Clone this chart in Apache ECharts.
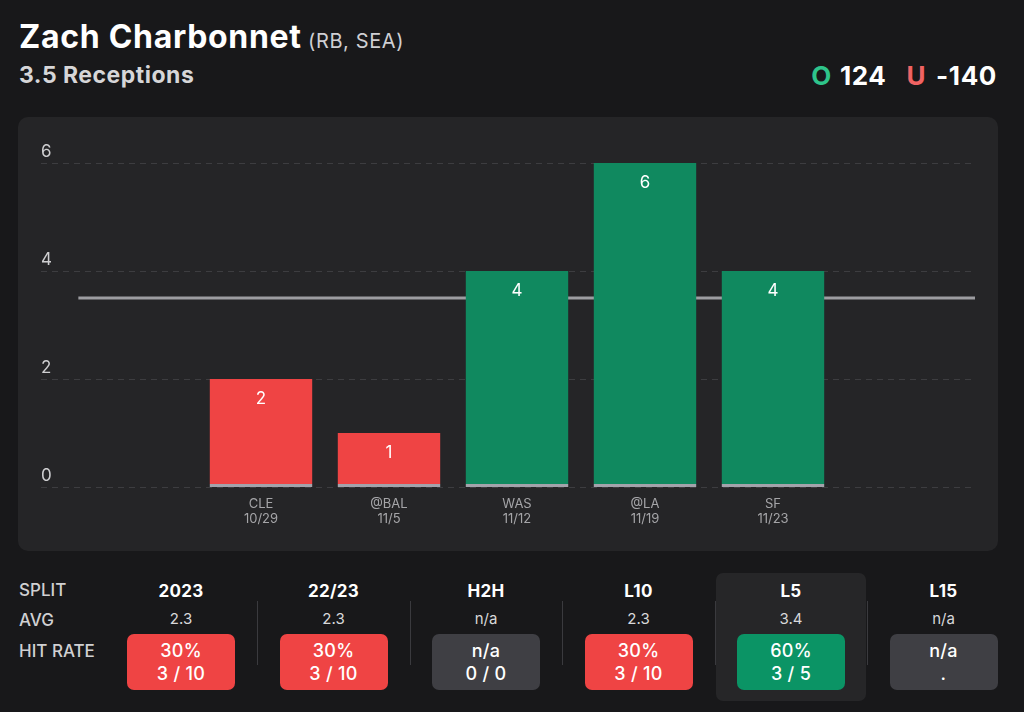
<!DOCTYPE html>
<html><head><meta charset="utf-8">
<script src="https://cdn.jsdelivr.net/npm/echarts@6/dist/echarts.min.js"></script>
<style>
html,body{margin:0;padding:0;background:#18181a;width:1024px;height:712px;overflow:hidden;font-family:Inter,"Noto Sans",sans-serif;}
#page{position:relative;width:1024px;height:712px;}
.abs{position:absolute;white-space:nowrap;}
#title{left:19px;top:17px;font-size:32px;font-weight:700;color:#fff;letter-spacing:0.7px}
#title span{font-size:20px;font-weight:400;color:#cfcfd3;letter-spacing:0.6px;margin-left:-2px}
#sub{left:19px;top:61px;font-size:23px;font-weight:700;color:#d6d6d8;letter-spacing:0.5px}
#odds{right:27px;top:60px;font-size:26px;font-weight:700;color:#fff;letter-spacing:0.6px}
#odds .o{color:#2ec48b;margin-right:8px}
#odds .u{color:#f06363;margin-left:20px;margin-right:10px}
#chart{left:18px;top:117px;width:980px;height:434px;background:#252527;border-radius:10px}
.rowlab{left:19px;font-size:17px;font-weight:500;color:#d0d0d2}
.colhead{font-size:17px;font-weight:700;color:#fff;text-align:center;width:140px;margin-left:-70px;letter-spacing:0.3px}
.colavg{font-size:15px;font-weight:400;color:#d8d8da;text-align:center;width:140px;margin-left:-70px}
.pill{width:108px;height:56px;margin-left:-54px;top:634px;border-radius:7px;box-sizing:border-box;padding-top:5px;text-align:center;color:#fff;font-size:18px;font-weight:500;line-height:23px;letter-spacing:0.3px}
.sep{width:1px;top:601px;height:64px;background:#3a3a3e}
#hl{left:716px;top:573px;width:150px;height:128px;background:#262628;border-radius:7px}
</style></head>
<body><div id="page">
<div id="title" class="abs">Zach Charbonnet <span>(RB, SEA)</span></div>
<div id="sub" class="abs">3.5 Receptions</div>
<div id="odds" class="abs"><span class="o">O</span>124<span class="u">U</span>-140</div>
<div id="chart" class="abs"></div>
<div id="hl" class="abs"></div>
<div id="table"></div>
</div>
<script>
// ---- chart data ----
const opponents = ['CLE', '@BAL', 'WAS', '@LA', 'SF'];
const dates = ['10/29', '11/5', '11/12', '11/19', '11/23'];
const receptions = [2, 1, 4, 6, 4];
const propLine = 3.5;
const yTicks = [0, 2, 4, 6];
// ---- split table data ----
const splits = ['2023', '22/23', 'H2H', 'L10', 'L5', 'L15'];
const splitAvg = ['2.3', '2.3', 'n/a', '2.3', '3.4', 'n/a'];
const hitPct = ['30%', '30%', 'n/a', '30%', '60%', 'n/a'];
const hitFrac = ['3 / 10', '3 / 10', '0 / 0', '3 / 10', '3 / 5', '.'];
const hitKind = ['under', 'under', 'none', 'under', 'over', 'none'];

const RED = '#ef4444', GREEN = '#10895f', STRIP = '#a3a3ab';

// table
const tbl = document.getElementById('table');
let html = '';
html += '<div class="abs rowlab" style="top:580px">SPLIT</div>';
html += '<div class="abs rowlab" style="top:610px">AVG</div>';
html += '<div class="abs rowlab" style="top:641px">HIT RATE</div>';
const pillColor = {under: '#ef4444', over: '#0b9465', none: '#3f3f44'};
splits.forEach((s, i) => {
  const cx = 181 + 152.5 * i;
  html += `<div class="abs colhead" style="left:${cx}px;top:581px">${s}</div>`;
  html += `<div class="abs colavg" style="left:${cx}px;top:609px">${splitAvg[i]}</div>`;
  html += `<div class="abs pill" style="left:${cx}px;background:${pillColor[hitKind[i]]}"><div>${hitPct[i]}</div><div>${hitFrac[i]}</div></div>`;
  if (i < splits.length - 1) html += `<div class="abs sep" style="left:${Math.round(cx + 76)}px"></div>`;
});
tbl.innerHTML = html;

// chart
const chart = echarts.init(document.getElementById('chart'), null, {renderer: 'canvas'});
const axisY = 370; // pixel y of zero line inside chart div (for bottom strip gradient)
function barFill(v) {
  const c = v > propLine ? GREEN : RED;
  return {type: 'linear', x: 0, y: axisY - 3.5, x2: 0, y2: axisY - 2.5, global: true,
    colorStops: [{offset: 0, color: c}, {offset: 1, color: STRIP}]};
}
chart.setOption({
  backgroundColor: 'transparent',
  animation: false,
  textStyle: {fontFamily: 'Inter'},
  grid: [
    {left: 23, right: 23, top: 46, bottom: 64},
    {left: 179, right: 161, top: 46, bottom: 64}
  ],
  xAxis: [
    {gridIndex: 0, type: 'value', min: 0, max: 1, show: false},
    {gridIndex: 1, type: 'category', data: opponents.map((o, i) => o + '\n' + dates[i]),
      axisLine: {show: false}, axisTick: {show: false},
      axisLabel: {color: '#a5a5a8', fontSize: 13, lineHeight: 15, margin: 10, fontFamily: 'Inter'}}
  ],
  yAxis: [
    {gridIndex: 0, type: 'value', min: yTicks[0], max: yTicks[yTicks.length - 1], interval: yTicks[1] - yTicks[0],
      axisLine: {show: false}, axisTick: {show: false},
      axisLabel: {inside: true, margin: 0, align: 'left', verticalAlign: 'bottom', padding: [0, 0, 3, 0],
        color: '#cfcfd1', fontSize: 17, fontFamily: 'Inter'},
      splitLine: {show: true, lineStyle: {type: [6, 5], color: '#3d3d40', width: 1}}},
    {gridIndex: 1, type: 'value', min: yTicks[0], max: yTicks[yTicks.length - 1], interval: yTicks[1] - yTicks[0], show: false}
  ],
  series: [
    {type: 'line', xAxisIndex: 0, yAxisIndex: 0, data: [[0.04, propLine], [1, propLine]],
      symbol: 'none', silent: true, z: 1, lineStyle: {color: '#9d9da1', width: 3}},
    {type: 'bar', xAxisIndex: 1, yAxisIndex: 1, barWidth: '80%', z: 3,
      data: receptions.map(v => ({value: v, itemStyle: {color: barFill(v)}})),
      label: {show: true, position: 'insideTop', distance: 11, color: '#ffffff', fontSize: 17, fontFamily: 'Inter'}}
  ]
});
</script>
</body></html>
